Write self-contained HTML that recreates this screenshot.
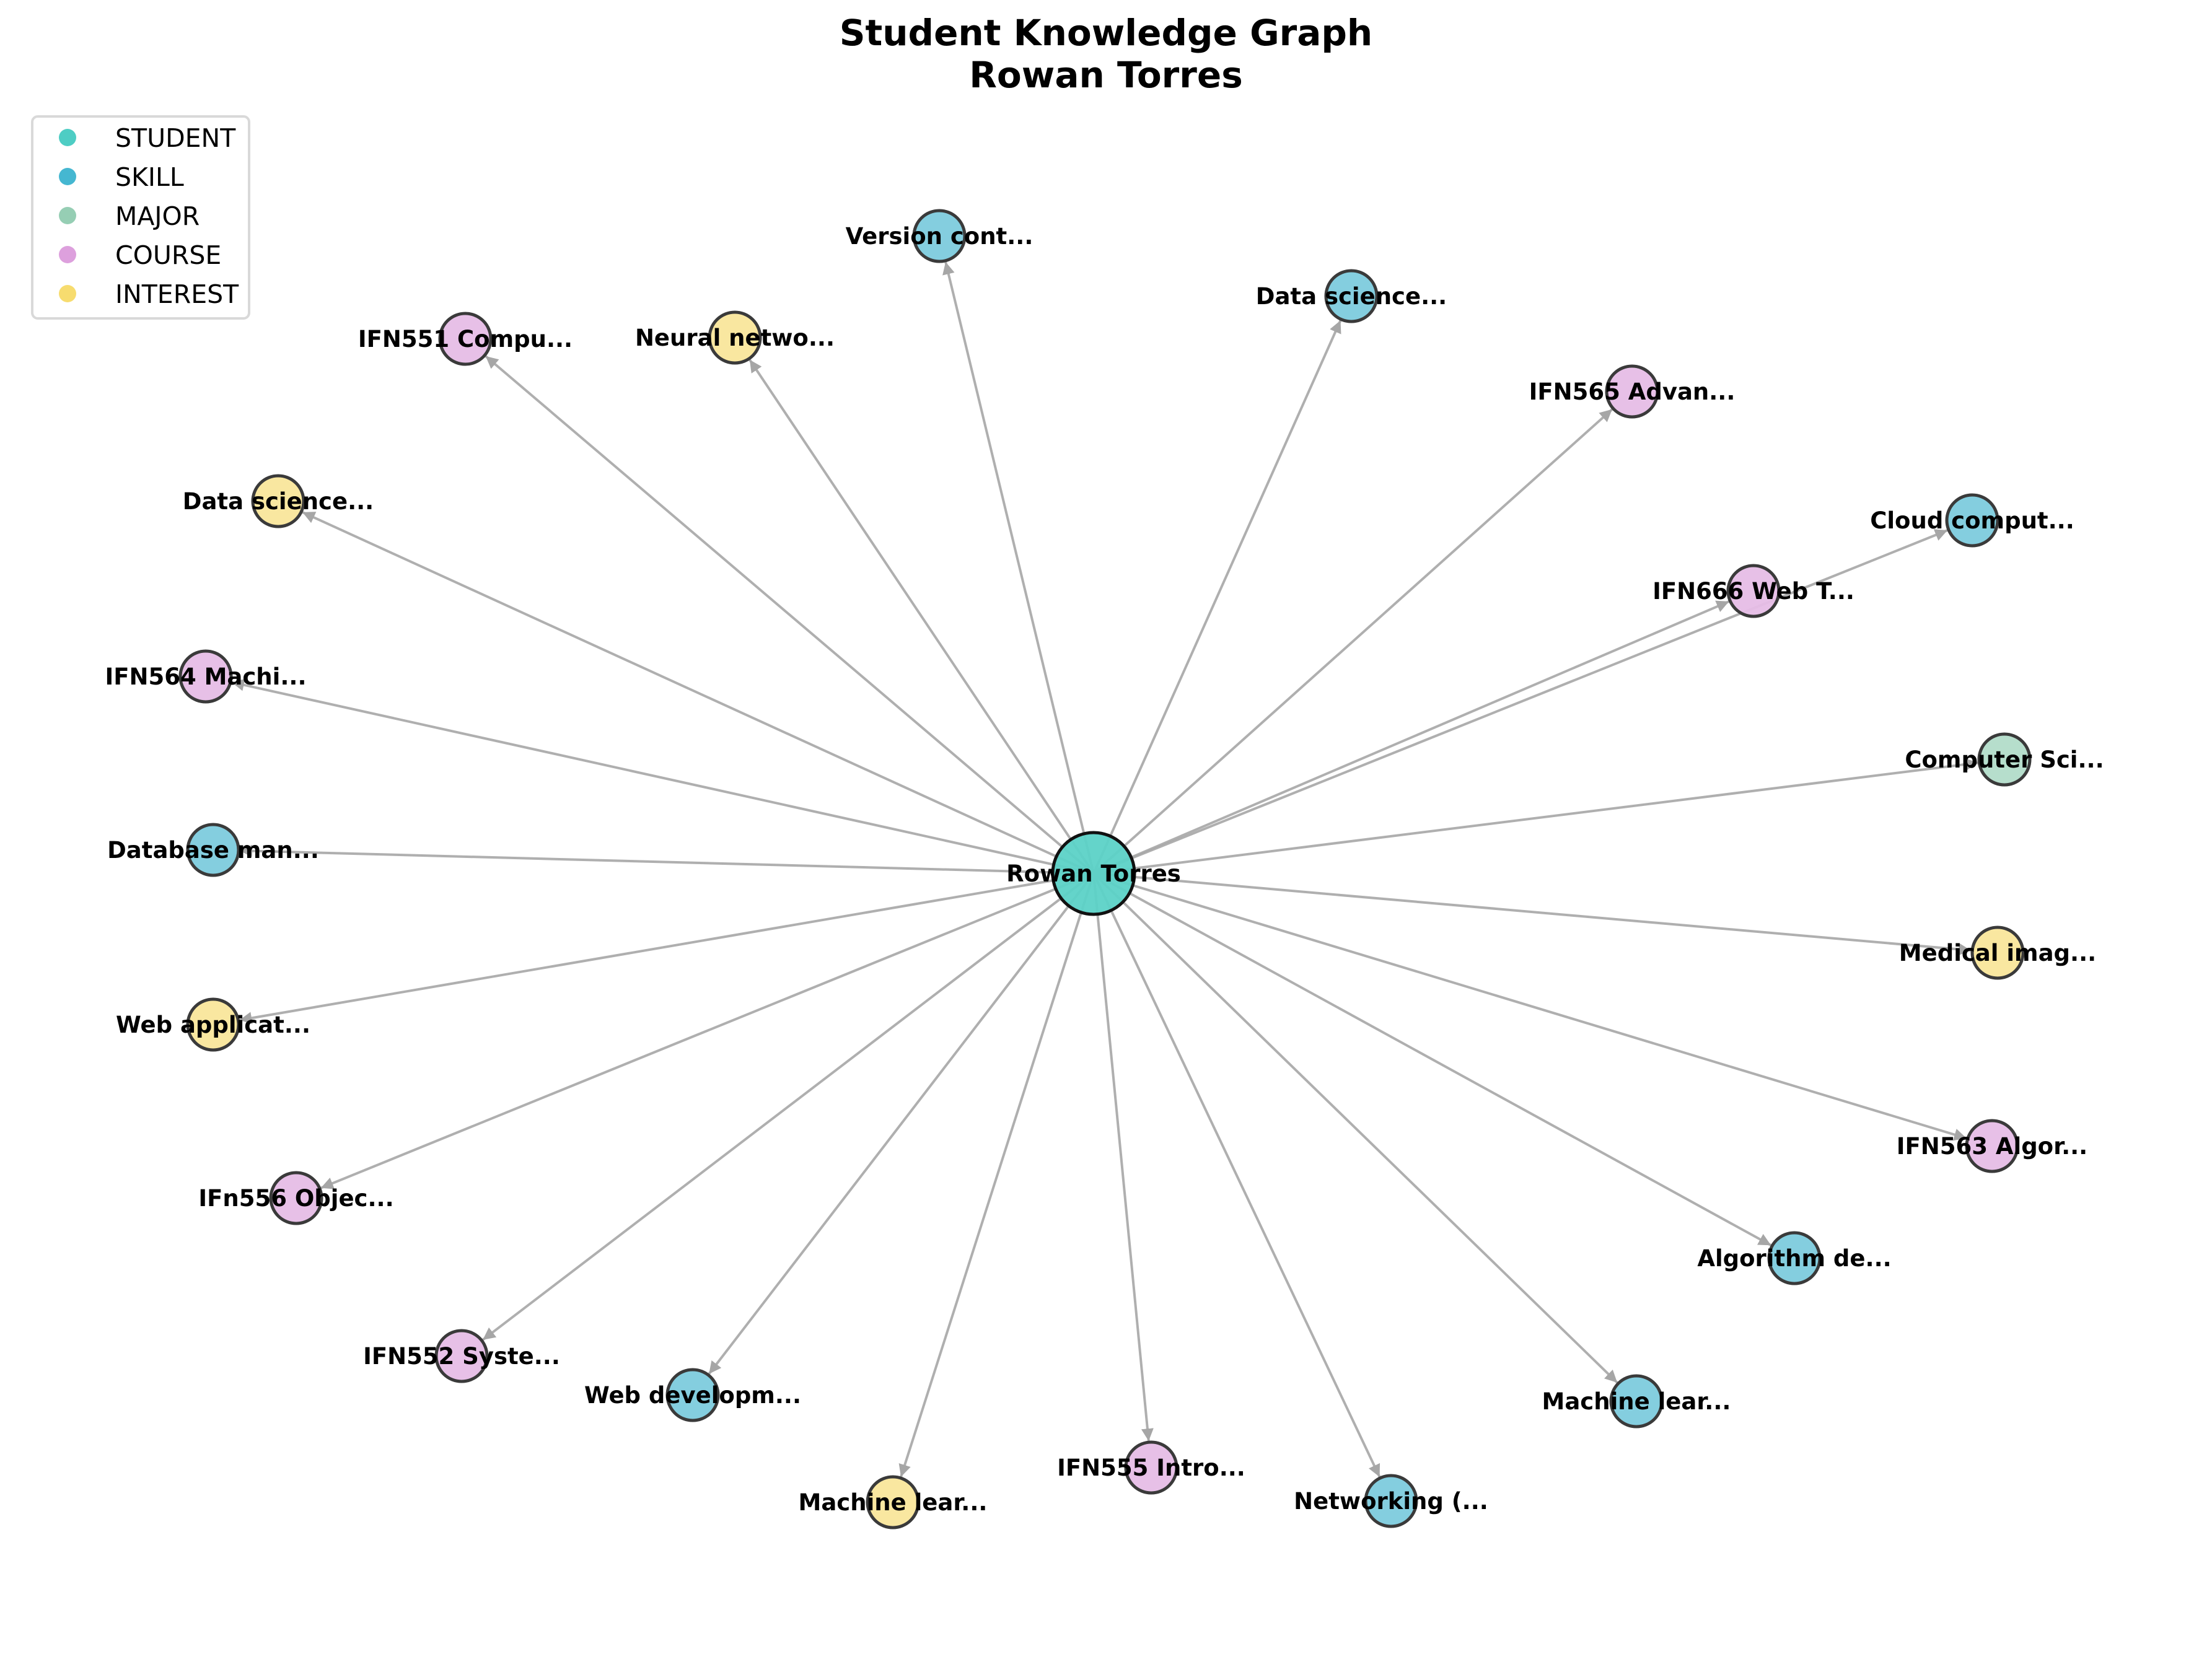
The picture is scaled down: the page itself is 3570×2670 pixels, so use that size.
<!DOCTYPE html>
<html><head><meta charset="utf-8"><style>
html,body{margin:0;padding:0;background:#fff;}
svg{display:block;font-family:"DejaVu Sans","Liberation Sans",sans-serif;}
</style></head><body>
<svg id="chart" width="3570" height="2670" viewBox="0 0 3570 2670" xmlns="http://www.w3.org/2000/svg">
<defs>
<marker id="arrow" viewBox="0 0 10 10" refX="10" refY="5" markerWidth="5" markerHeight="5" markerUnits="strokeWidth" orient="auto">
<path d="M0,0 L10,5 L0,10 z" fill="#a6a6a6"/>
</marker>
</defs>
<text x="1785" y="73" text-anchor="middle" font-size="58" font-weight="bold">Student Knowledge Graph</text>
<text x="1785" y="141" text-anchor="middle" font-size="58" font-weight="bold">Rowan Torres</text>
<g id="edges"></g>
<g id="nodes"></g>
<g id="labels"></g>
<g>
<rect x="52" y="188" width="350" height="326" rx="9" fill="#fff" stroke="#d9d9d9" stroke-width="4"/>
<g id="legend"></g>
</g>
</svg>
<script>
const nodeLabels = ["Rowan Torres","Version cont...","Data science...","IFN551 Compu...","Neural netwo...","IFN565 Advan...","Data science...","Cloud comput...","IFN666 Web T...","IFN564 Machi...","Computer Sci...","Database man...","Medical imag...","Web applicat...","IFN563 Algor...","IFn556 Objec...","Algorithm de...","IFN552 Syste...","Web developm...","Machine lear...","IFN555 Intro...","Machine lear...","Networking (..."];
const nodeTypes = ["STUDENT","SKILL","SKILL","COURSE","INTEREST","COURSE","INTEREST","SKILL","COURSE","COURSE","MAJOR","SKILL","INTEREST","INTEREST","COURSE","COURSE","SKILL","COURSE","SKILL","SKILL","COURSE","INTEREST","SKILL"];
const nodeX = [1765,1516,2181,751,1186,2634,449,3183,2830,332,3235,344,3224,344,3215,478,2896,745,1118,2641,1858,1441,2245];
const nodeY = [1410,381,478,547,545,632,809,840,954,1092,1226,1372,1538,1654,1850,1934,2031,2189,2252,2262,2369,2425,2423];
const edgeSource = [0,0,0,0,0,0,0,0,0,0,0,0,0,0,0,0,0,0,0,0,0,0];
const edgeTarget = [1,2,3,4,5,6,7,8,9,10,11,12,13,14,15,16,17,18,19,20,21,22];
const legendTypes = ["STUDENT","SKILL","MAJOR","COURSE","INTEREST"];

const fillColors = {STUDENT:"#5cd2c7",SKILL:"#7dcbdd",MAJOR:"#b2dcc9",COURSE:"#e6bde6",INTEREST:"#f9e69b"};
const legendColors = {STUDENT:"#4ecdc4",SKILL:"#45b7d1",MAJOR:"#96ceb4",COURSE:"#dda0dd",INTEREST:"#f7dc6f"};
const NS = "http://www.w3.org/2000/svg";
const px = i => nodeX[i];
const py = i => nodeY[i];
const rad = i => nodeTypes[i] === "STUDENT" ? 66 : 41;

const eg = document.getElementById("edges");
edgeSource.forEach((s, k) => {
  const t = edgeTarget[k];
  const dx = px(t) - px(s), dy = py(t) - py(s), L = Math.hypot(dx, dy);
  const ex = px(t) - dx / L * (rad(t) + 2), ey = py(t) - dy / L * (rad(t) + 2);
  const l = document.createElementNS(NS, "line");
  l.setAttribute("x1", px(s)); l.setAttribute("y1", py(s));
  l.setAttribute("x2", ex); l.setAttribute("y2", ey);
  l.setAttribute("stroke", "#a6a6a6"); l.setAttribute("stroke-width", "4");
  l.setAttribute("stroke-opacity", "0.9");
  l.setAttribute("marker-end", "url(#arrow)");
  
  
  eg.appendChild(l);
});

const ng = document.getElementById("nodes");
const lg = document.getElementById("labels");
nodeLabels.forEach((lab, i) => {
  const c = document.createElementNS(NS, "circle");
  c.setAttribute("cx", px(i)); c.setAttribute("cy", py(i)); c.setAttribute("r", rad(i));
  c.setAttribute("fill", fillColors[nodeTypes[i]]);
  c.setAttribute("fill-opacity", "0.95");
  c.setAttribute("stroke", nodeTypes[i] === "STUDENT" ? "#111" : "#3a3a3a");
  c.setAttribute("stroke-width", "5");
  
  
  ng.appendChild(c);
  const tx = document.createElementNS(NS, "text");
  tx.setAttribute("x", px(i)); tx.setAttribute("y", py(i) + 13);
  tx.setAttribute("text-anchor", "middle");
  tx.setAttribute("font-size", "37"); tx.setAttribute("font-weight", "bold");
  tx.textContent = lab;
  
  
  lg.appendChild(tx);
});

const leg = document.getElementById("legend");
legendTypes.forEach((t, k) => {
  const y = 222 + k * 63;
  const c = document.createElementNS(NS, "circle");
  c.setAttribute("cx", 109); c.setAttribute("cy", y); c.setAttribute("r", 14);
  c.setAttribute("fill", legendColors[t]);
  
  
  leg.appendChild(c);
  const tx = document.createElementNS(NS, "text");
  tx.setAttribute("x", 186); tx.setAttribute("y", y + 15);
  tx.setAttribute("font-size", "41");
  tx.textContent = t;
  
  
  leg.appendChild(tx);
});
</script>
</body></html>
